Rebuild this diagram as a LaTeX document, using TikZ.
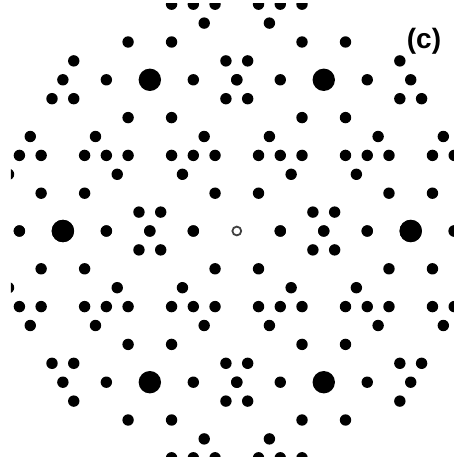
\documentclass[tikz,border=0pt]{standalone}
\usepackage{fontspec}
\setmainfont{Liberation Sans}
\begin{document}
\begin{tikzpicture}[
    x=1pt, y=1pt,
    spot/.style={fill=black},
    bigspot/.style={fill=black},
    beam/.style={draw=black!75, line width=1.8pt},
    panellabel/.style={font=\fontsize{28}{30}\selectfont\bfseries, inner sep=0pt}
]
\useasboundingbox (-236.8,-226) rectangle (217.2,231);
\def\hu{10.87}
\def\hv{18.9}
\begin{scope}
\clip (-225.8,-226) rectangle (217.2,227);
\foreach \u/\k in {4/0, 8/0, 12/0, 20/0, 7/1, 9/1, 2/2, 14/2, 18/2,
    5/3, 11/3, 21/3, 2/4, 4/4, 6/4, 10/4, 12/4, 14/4, 18/4, 20/4,
    3/5, 13/5, 19/5, 6/6, 10/6, 1/7, 15/7, 17/7, 0/8, 4/8, 12/8, 16/8,
    1/9, 15/9, 6/10, 10/10, 3/11, 2/12, 4/12, 6/12}
  \foreach \sx in {1,-1}
    \foreach \sy in {1,-1}
      \fill[spot] (\sx*\u*\hu, \sy*\k*\hv) circle (5.7);
\foreach \u/\k in {16/0, 8/8}
  \foreach \sx in {1,-1}
    \foreach \sy in {1,-1}
      \fill[bigspot] (\sx*\u*\hu, \sy*\k*\hv) circle (11.2);
\end{scope}
\draw[beam] (0,0) circle (4.4);
\node[panellabel] (panel) at (187.2,190) {(c)};
\end{tikzpicture}
\end{document}
